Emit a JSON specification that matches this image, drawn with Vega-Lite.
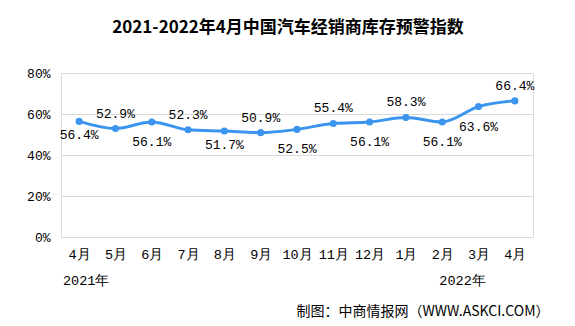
{
  "$schema": "https://vega.github.io/schema/vega-lite/v6.json",
  "autosize": {"type": "none"},
  "width": 472,
  "height": 164,
  "padding": {"left": 61, "top": 73, "right": 42, "bottom": 89},
  "background": "white",
  "title": {
    "text": "2021-2022年4月中国汽车经销商库存预警指数",
    "font": "Noto Sans CJK SC",
    "fontSize": 17,
    "fontWeight": "bold",
    "color": "#000000",
    "anchor": "middle",
    "dx": -9,
    "offset": 30
  },
  "config": {
    "axisX": {
      "labelExpr": "toNumber(slice(datum.value, 5)) + '月'",
      "labelAngle": 0,
      "labelFont": "Liberation Mono",
      "labelFontSize": 13.5,
      "labelColor": "#000000",
      "labelPadding": 10,
      "domain": false,
      "ticks": false,
      "grid": false,
      "titleFont": "Noto Sans CJK SC",
      "titleFontSize": 14,
      "titleFontWeight": "normal",
      "titleColor": "#000000",
      "titleAnchor": "end",
      "titleAlign": "right",
      "titleX": 488,
      "titlePadding": 44
    },
    "axisY": {
      "labelExpr": "datum.value + '%'",
      "labelFont": "Liberation Mono",
      "labelFontSize": 13,
      "labelColor": "#000000",
      "labelPadding": 11,
      "domain": false,
      "ticks": false,
      "gridColor": "#d9d9d9",
      "gridWidth": 1
    }
  },
  "datasets": {
    "series": [
      {"period": "2021-04", "value": 56.4},
      {"period": "2021-05", "value": 52.9},
      {"period": "2021-06", "value": 56.1},
      {"period": "2021-07", "value": 52.3},
      {"period": "2021-08", "value": 51.7},
      {"period": "2021-09", "value": 50.9},
      {"period": "2021-10", "value": 52.5},
      {"period": "2021-11", "value": 55.4},
      {"period": "2021-12", "value": 56.1},
      {"period": "2022-01", "value": 58.3},
      {"period": "2022-02", "value": 56.1},
      {"period": "2022-03", "value": 63.6},
      {"period": "2022-04", "value": 66.4}
    ],
    "years": [
      {"period": "2021-04", "year": "2021年", "base": 0},
      {"period": "2022-03", "year": "2022年", "base": 0}
    ]
  },
  "data": {"name": "series"},
  "encoding": {
    "x": {
      "field": "period",
      "type": "nominal",
      "sort": null,
      "scale": {"paddingInner": 0, "paddingOuter": 0},
      "axis": {"title": "制图：中商情报网（WWW.ASKCI.COM）"}
    },
    "y": {
      "field": "value",
      "type": "quantitative",
      "scale": {"domain": [0, 80]},
      "axis": {"title": null, "values": [0, 20, 40, 60, 80]}
    }
  },
  "layer": [
    {
      "mark": {"type": "line", "color": "#3B95EF", "strokeWidth": 3, "interpolate": "monotone"}
    },
    {
      "mark": {"type": "point", "filled": true, "color": "#3B95EF", "size": 50, "opacity": 1}
    },
    {
      "transform": [
        {"filter": {"field": "period", "oneOf": ["2021-05", "2021-07", "2021-09", "2021-11", "2022-01", "2022-04"]}},
        {"calculate": "format(datum.value, '.1f') + '%'", "as": "label"}
      ],
      "mark": {"type": "text", "font": "Liberation Mono", "fontSize": 13, "color": "#000000", "dy": -15},
      "encoding": {"text": {"field": "label"}}
    },
    {
      "transform": [
        {"filter": {"field": "period", "oneOf": ["2021-04", "2021-08"]}},
        {"calculate": "format(datum.value, '.1f') + '%'", "as": "label"}
      ],
      "mark": {"type": "text", "font": "Liberation Mono", "fontSize": 13, "color": "#000000", "dy": 14},
      "encoding": {"text": {"field": "label"}}
    },
    {
      "transform": [
        {"filter": {"field": "period", "oneOf": ["2021-06", "2021-10", "2021-12", "2022-02", "2022-03"]}},
        {"calculate": "format(datum.value, '.1f') + '%'", "as": "label"}
      ],
      "mark": {"type": "text", "font": "Liberation Mono", "fontSize": 13, "color": "#000000", "dy": 20},
      "encoding": {"text": {"field": "label"}}
    },
    {
      "data": {"name": "years"},
      "transform": [{"filter": {"field": "period", "equal": "2021-04"}}],
      "mark": {"type": "text", "font": "Liberation Mono", "fontSize": 13.5, "color": "#000000", "dy": 44, "dx": 7},
      "encoding": {
        "x": {"field": "period", "type": "nominal", "sort": null},
        "y": {"field": "base", "type": "quantitative"},
        "text": {"field": "year"}
      }
    },
    {
      "data": {"name": "years"},
      "transform": [{"filter": {"field": "period", "equal": "2022-03"}}],
      "mark": {"type": "text", "font": "Liberation Mono", "fontSize": 13.5, "color": "#000000", "dy": 44, "dx": -16},
      "encoding": {
        "x": {"field": "period", "type": "nominal", "sort": null},
        "y": {"field": "base", "type": "quantitative"},
        "text": {"field": "year"}
      }
    }
  ]
}
